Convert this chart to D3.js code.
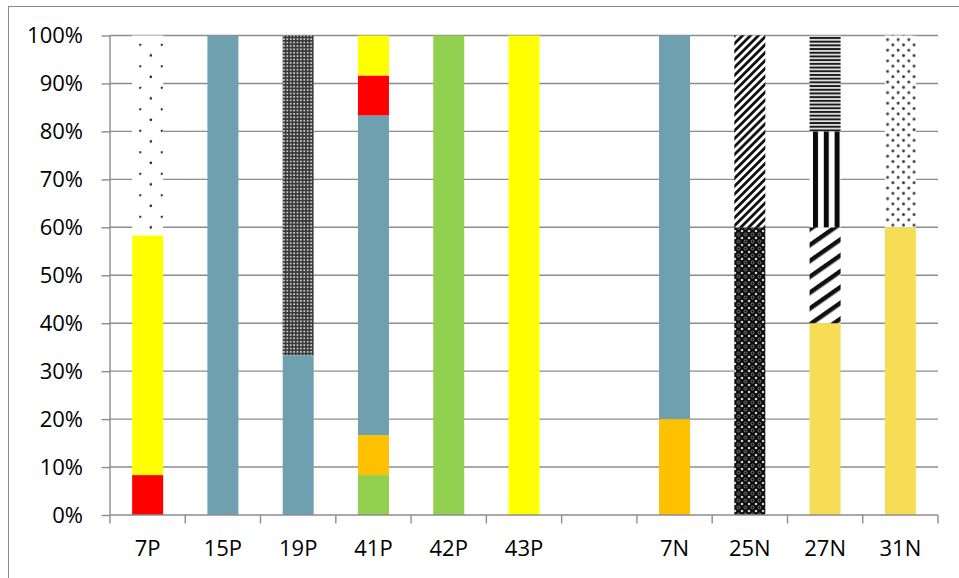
<!DOCTYPE html>
<html><head><meta charset="utf-8">
<script src="https://cdn.jsdelivr.net/npm/d3@7"></script>
<style>
html,body{margin:0;padding:0;background:#fff;}
svg{display:block;}
</style></head>
<body>
<svg id="chart" width="959" height="578"></svg>
<script>
// ---- data (percent of each bar) ----
const categories = ["7P","15P","19P","41P","42P","43P","","7N","25N","27N","31N"];
const yTicks = [0,10,20,30,40,50,60,70,80,90,100];
const green        = [0,0,0,8.33,100,0,0,0,0,0,0];
const orange       = [0,0,0,8.33,0,0,0,20,0,0,0];
const teal         = [0,100,33.33,66.67,0,0,0,80,0,0,0];
const red          = [8.33,0,0,8.33,0,0,0,0,0,0,0];
const yellow       = [50,0,0,8.33,0,100,0,0,0,0,0];
const sparseDots   = [41.67,0,0,0,0,0,0,0,0,0,0];
const checker      = [0,0,66.67,0,0,0,0,0,0,0,0];
const lightYellow  = [0,0,0,0,0,0,0,0,0,40,60];
const lattice      = [0,0,0,0,0,0,0,0,60,0,0];
const thinDiag     = [0,0,0,0,0,0,0,0,40,0,0];
const wideDiag     = [0,0,0,0,0,0,0,0,0,20,0];
const vertStripes  = [0,0,0,0,0,0,0,0,0,20,0];
const horizStripes = [0,0,0,0,0,0,0,0,0,20,0];
const denseDots    = [0,0,0,0,0,0,0,0,0,0,40];

const seriesList = {green, orange, teal, red, yellow, sparseDots, checker,
  lightYellow, lattice, thinDiag, wideDiag, vertStripes, horizStripes, denseDots};
const keys = Object.keys(seriesList);
const rows = categories.map((c,i)=>{const r={cat:c}; keys.forEach(k=>r[k]=seriesList[k][i]); return r;});

// ---- styles ----
const fills = {
  green:"#92D050", orange:"#FFC000", teal:"#6FA0AF", red:"#FF0000", yellow:"#FFFF00",
  sparseDots:"url(#pSparse)", checker:"url(#pChecker)", lightYellow:"#F6DD55",
  lattice:"url(#pLattice)", thinDiag:"url(#pThinDiag)", wideDiag:"url(#pWideDiag)",
  vertStripes:"url(#pVert)", horizStripes:"url(#pHoriz)", denseDots:"url(#pDense)"
};
const FONT = "'Open Sans', 'Noto Sans', sans-serif";
const GRID = "#8C8C8C";

const svg = d3.select("#chart");
svg.append("rect").attr("width",959).attr("height",578).attr("fill","#fff");
svg.append("rect").attr("x",8.5).attr("y",6.5).attr("width",970).attr("height",590)
  .attr("fill","none").attr("stroke","#8a8a8a").attr("stroke-width",1);

// ---- patterns ----
const defs = svg.append("defs");
function pat(id,w,h,extra){
  const p = defs.append("pattern").attr("id",id).attr("patternUnits","userSpaceOnUse")
    .attr("width",w).attr("height",h);
  if(extra) Object.entries(extra).forEach(([k,v])=>p.attr(k,v));
  return p;
}
// sparse dots (7P top)
{ const p = pat("pSparse",21.5,21.5,{x:10.3,y:0.8});
  p.append("rect").attr("width",21.5).attr("height",21.5).attr("fill","#fff");
  p.append("circle").attr("cx",0.8).attr("cy",0.8).attr("r",1.3).attr("fill","#222");
  p.append("circle").attr("cx",11.55).attr("cy",11.55).attr("r",1.3).attr("fill","#222"); }
// checker (19P top)
{ const p = pat("pChecker",3.4,3.4);
  p.append("rect").attr("width",3.4).attr("height",3.4).attr("fill","#3a3a3a");
  p.append("circle").attr("cx",1.7).attr("cy",1.7).attr("r",0.95).attr("fill","#e8e8e8"); }
// lattice (25N bottom)
{ const p = pat("pLattice",7,7);
  p.append("rect").attr("width",7).attr("height",7).attr("fill","#0a0a0a");
  [[0,0],[7,0],[0,7],[7,7]].forEach(([a,b])=>p.append("circle").attr("cx",a).attr("cy",b).attr("r",1.3).attr("fill","#d0d0d0"));
  p.append("circle").attr("cx",3.5).attr("cy",3.5).attr("r",1.5).attr("fill","none").attr("stroke","#8a8a8a").attr("stroke-width",0.9); }
// thin diagonal (25N top)
{ const p = pat("pThinDiag",5.6,10,{patternTransform:"rotate(45)"});
  p.append("rect").attr("width",5.6).attr("height",10).attr("fill","#fff");
  p.append("rect").attr("width",2.8).attr("height",10).attr("fill","#111"); }
// wide diagonal (27N 40-60)
{ const p = pat("pWideDiag",13,10,{patternTransform:"rotate(55)"});
  p.append("rect").attr("width",13).attr("height",10).attr("fill","#fff");
  p.append("rect").attr("width",4.5).attr("height",10).attr("fill","#111"); }
// vertical stripes (27N 60-80)
{ const p = pat("pVert",10.8,10,{x:813});
  p.append("rect").attr("width",10.8).attr("height",10).attr("fill","#fff");
  p.append("rect").attr("width",5).attr("height",10).attr("fill","#0a0a0a"); }
// horizontal stripes (27N 80-100)
{ const p = pat("pHoriz",10,3.7);
  p.append("rect").attr("width",10).attr("height",3.7).attr("fill","#e0e0e0");
  p.append("rect").attr("width",10).attr("height",1.9).attr("fill","#1a1a1a"); }
// dense dots (31N top)
{ const p = pat("pDense",10.6,10.6);
  p.append("rect").attr("width",10.6).attr("height",10.6).attr("fill","#fff");
  p.append("circle").attr("cx",2.5).attr("cy",2.5).attr("r",1.5).attr("fill","#3a3a3a");
  p.append("circle").attr("cx",7.8).attr("cy",7.8).attr("r",1.5).attr("fill","#3a3a3a"); }

// ---- scales ----
const x0 = 110, x1 = 938, yBottom = 515, yTop = 35.5;
const x = d3.scaleBand().domain(categories).range([x0,x1]).paddingInner(0.588).paddingOuter(0.294);
const y = d3.scaleLinear().domain([0,100]).range([yBottom,yTop]);

// gridlines
svg.append("g").selectAll("line").data(yTicks.filter(d=>d>0)).join("line")
  .attr("x1",x0).attr("x2",x1).attr("y1",d=>y(d)).attr("y2",d=>y(d))
  .attr("stroke",GRID).attr("stroke-width",1.4);

// bars
const stacked = d3.stack().keys(keys)(rows);
svg.append("g").selectAll("g").data(stacked).join("g")
  .attr("fill",d=>fills[d.key])
  .selectAll("rect").data(d=>d.filter(s=>s[1]-s[0]>0)).join("rect")
  .attr("x",d=>x(d.data.cat)).attr("width",x.bandwidth())
  .attr("y",d=>y(d[1])).attr("height",d=>y(d[0])-y(d[1]));

// y axis
const yAxis = d3.axisLeft(y).tickValues(yTicks).tickFormat(d=>d+"%").tickSize(8.5).tickPadding(18.5);
const gy = svg.append("g").attr("transform",`translate(${x0},0)`).call(yAxis);
gy.select(".domain").attr("stroke",GRID).attr("stroke-width",1.4).attr("d",`M0,${yTop}V${yBottom}`);
gy.selectAll(".tick line").attr("stroke",GRID).attr("stroke-width",1.4);
gy.selectAll("text").attr("font-family",FONT).attr("font-size",22).attr("fill","#000");

// x axis labels
const xAxis = d3.axisBottom(x).tickSize(0).tickPadding(25);
const gx = svg.append("g").attr("transform",`translate(0,${yBottom})`).call(xAxis);
gx.select(".domain").remove();
gx.selectAll("text").attr("font-family",FONT).attr("font-size",22).attr("fill","#000");
// x axis line and boundary ticks
svg.append("line").attr("x1",x0).attr("x2",x1).attr("y1",yBottom).attr("y2",yBottom)
  .attr("stroke",GRID).attr("stroke-width",1.4);
svg.append("g").selectAll("line").data(d3.range(categories.length+1)).join("line")
  .attr("x1",i=>x0+i*x.step()).attr("x2",i=>x0+i*x.step())
  .attr("y1",yBottom).attr("y2",yBottom+8.5)
  .attr("stroke",GRID).attr("stroke-width",1.4);
</script>
</body></html>
